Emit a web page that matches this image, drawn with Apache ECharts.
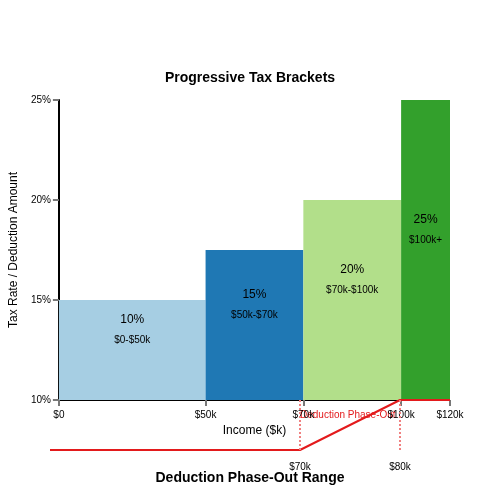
<!DOCTYPE html><html><head><meta charset="utf-8"><script src="https://cdn.jsdelivr.net/npm/echarts@6/dist/echarts.min.js"></script></head><body style="margin:0"><div id="c" style="width:500px;height:500px"></div><script>
const tickPos=[0,3,5,7,8];
const tickLabels=['$0','$50k','$70k','$100k','$120k'];
const bracketStart=[0,3,5,7];
const bracketEnd=[3,5,7,8];
const bracketTop=[15,17.5,20,25];
const bracketRate=['10%','15%','20%','25%'];
const bracketRange=['$0-$50k','$50k-$70k','$70k-$100k','$100k+'];
const colors=['#a6cee3','#1f78b4','#b2df8a','#33a02c'];
const phaseX=[0,5,7,8];
const phaseY=[0,0,1,1];
const phaseLabels={5:'$70k',7:'$80k'};
const ch=echarts.init(document.getElementById('c'));
const bars=bracketStart.map((s,i)=>[s,bracketEnd[i],bracketTop[i],i]);
ch.setOption({animation:false,
title:[{text:'Progressive Tax Brackets',left:'center',top:66,textStyle:{fontSize:14,fontWeight:'bold',color:'#000',fontFamily:'Liberation Sans'}},
{text:'Deduction Phase-Out Range',left:'center',top:466,textStyle:{fontSize:14,fontWeight:'bold',color:'#000',fontFamily:'Liberation Sans'}}],
grid:[{left:50,width:400,top:100,height:300},{left:50,width:400,top:400,height:50}],
xAxis:[{type:'value',gridIndex:0,min:0,max:8,customValues:tickPos,
 axisLine:{lineStyle:{color:'#000'}},axisTick:{customValues:tickPos,lineStyle:{color:'#777',width:2},length:6},
 splitLine:{show:false},axisLabel:{customValues:tickPos,formatter:v=>tickLabels[tickPos.indexOf(v)],fontSize:10,color:'#000',margin:10},
 name:'Income ($k)',nameLocation:'middle',nameGap:20,nameTextStyle:{fontSize:12,color:'#000'}},
{type:'value',gridIndex:1,min:0,max:8,axisLine:{show:false},axisTick:{show:false},splitLine:{show:false},
 axisLabel:{customValues:[5,7],formatter:v=>phaseLabels[v],fontSize:10,color:'#000',margin:12}}],
yAxis:[{type:'value',gridIndex:0,min:10,max:25,interval:5,axisLine:{show:true,lineStyle:{color:'#000',width:2}},
 axisTick:{show:true,lineStyle:{color:'#777',width:2},length:6},splitLine:{show:false},
 axisLabel:{formatter:'{value}%',fontSize:10,color:'#000'},name:'Tax Rate / Deduction Amount',nameLocation:'middle',nameGap:28,nameTextStyle:{fontSize:12,color:'#000'}},
{type:'value',gridIndex:1,min:0,max:1,show:false}],
series:[{type:'custom',xAxisIndex:0,yAxisIndex:0,data:bars,encode:{x:[0,1],y:2},
 renderItem:(p,api)=>{const a=api.coord([api.value(0),api.value(2)]),b=api.coord([api.value(1),10]);const i=api.value(3);
 const w=b[0]-a[0],h=b[1]-a[1];
 return {type:'group',children:[{type:'rect',shape:{x:a[0],y:a[1],width:w,height:h},style:{fill:colors[i]}},
 {type:'text',x:a[0]+w/2,y:a[1]+h/2-30+(i==3?0:0),style:{text:bracketRate[i],fill:'#000',fontSize:12,align:'center',verticalAlign:'middle'}},
 {type:'text',x:a[0]+w/2,y:a[1]+h/2-10,style:{text:bracketRange[i],fill:'#000',fontSize:10,align:'center',verticalAlign:'middle'}}]};}},
{type:'line',xAxisIndex:1,yAxisIndex:1,data:phaseX.map((x,i)=>[x,phaseY[i]]),symbol:'none',lineStyle:{color:'#e31a1c',width:2},
 markLine:{silent:true,symbol:'none',label:{show:false},lineStyle:{color:'#f08080',type:'dotted',width:2},data:[{xAxis:5},{xAxis:7}]}}],
graphic:[{type:'text',left:300,top:410,style:{text:'Deduction Phase-Out',fill:'#e31a1c',fontSize:10}}]
});
</script></body></html>
